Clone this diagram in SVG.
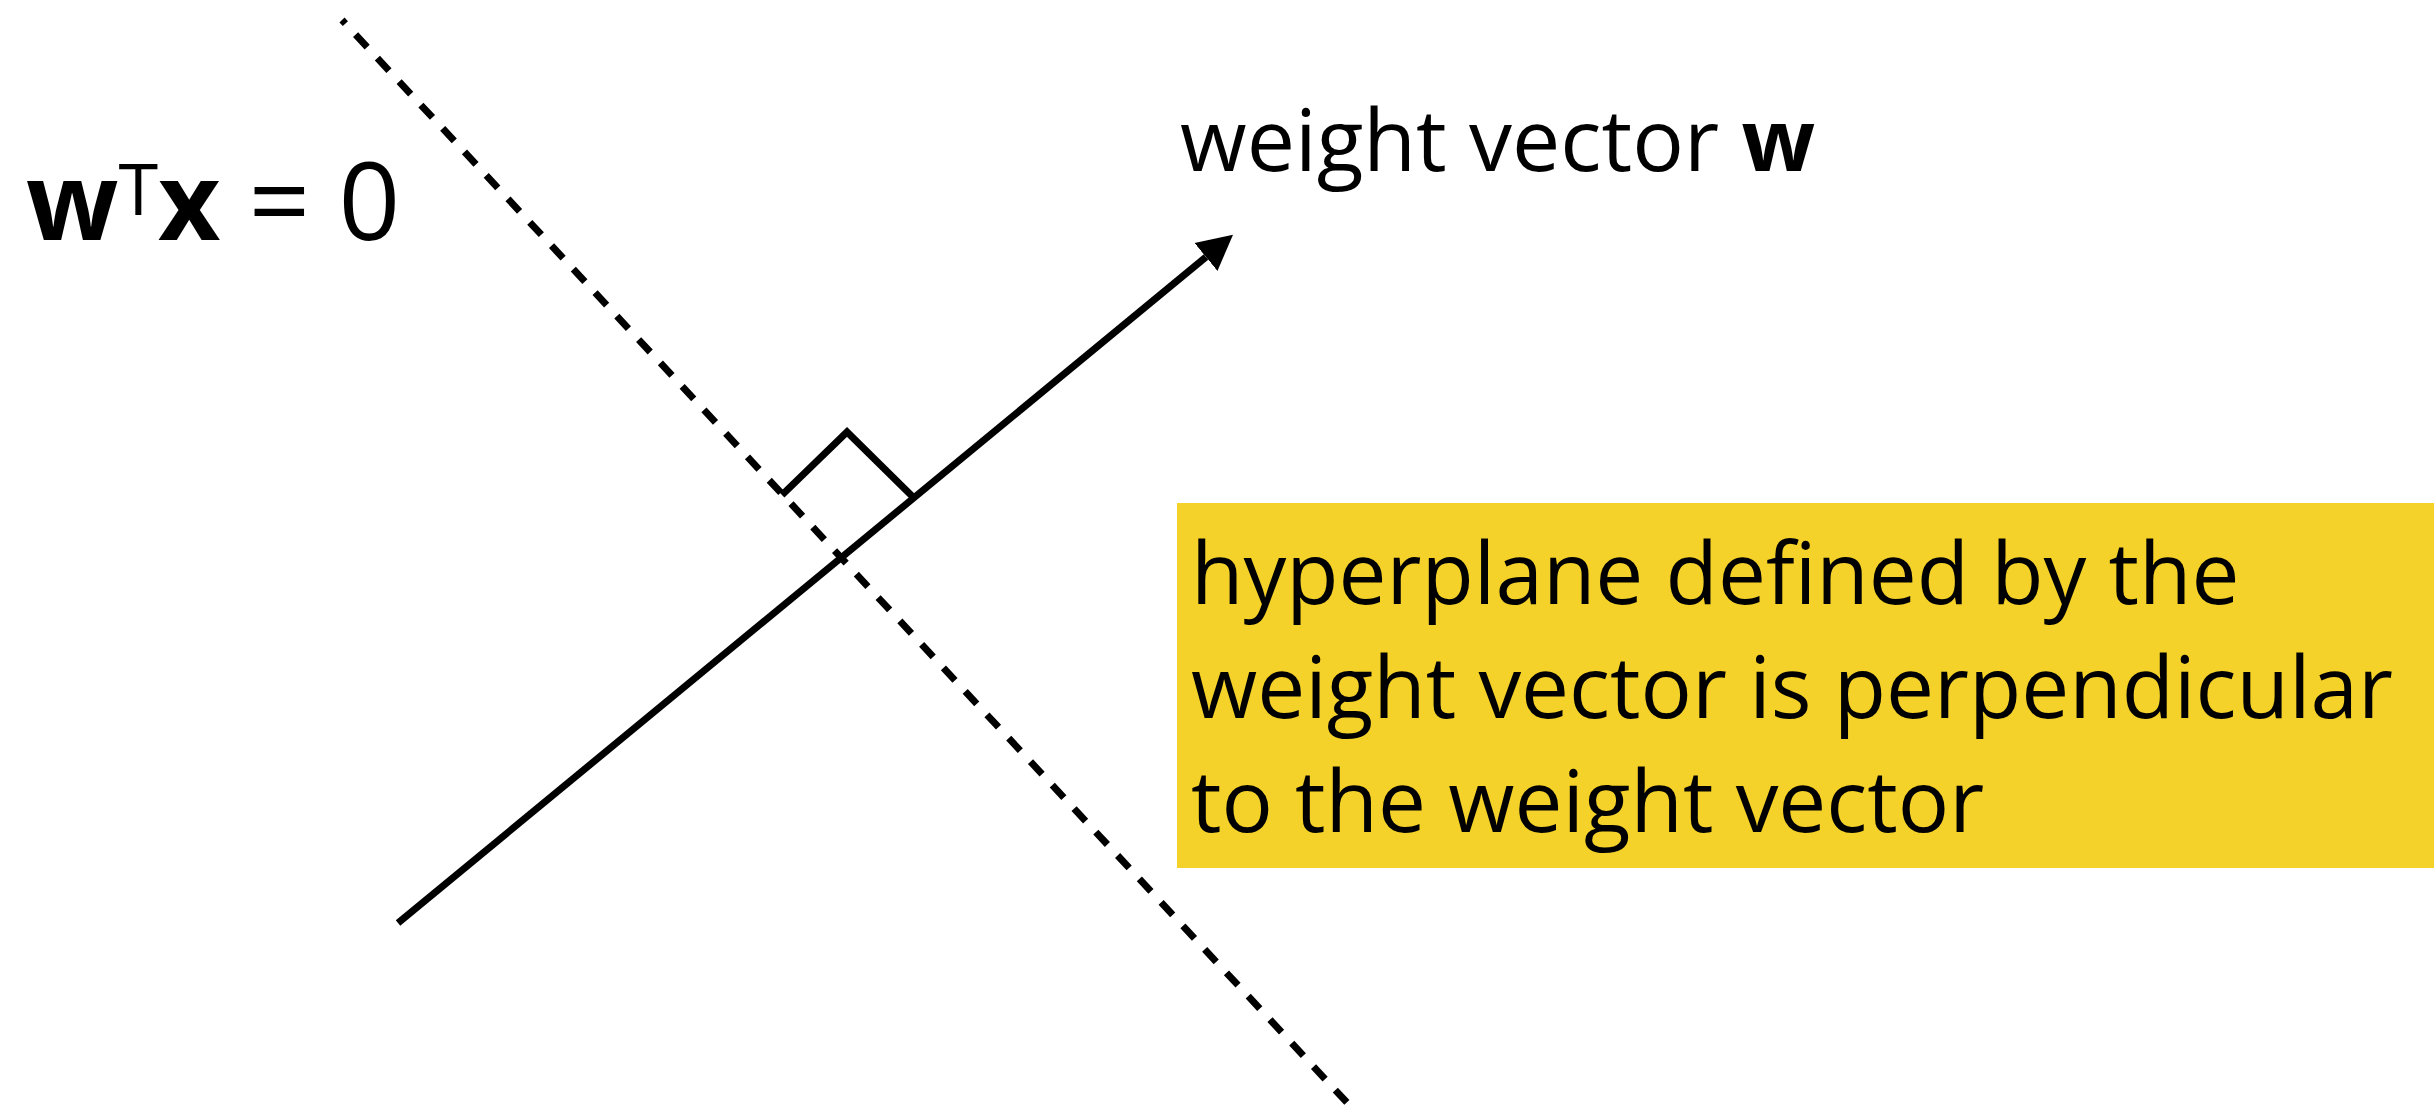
<svg xmlns="http://www.w3.org/2000/svg" width="2434" height="1106" viewBox="0 0 2434 1106">
  <style>
    .t { font-family: "Open Sans", "Noto Sans", "DejaVu Sans", sans-serif; fill: #000; }
    .b { font-weight: 700; }
    .ln { stroke: #000; stroke-width: 7; fill: none; }
    .dash { stroke-dasharray: 17 15; }
  </style>
  <defs>
    <marker id="arrow" markerUnits="userSpaceOnUse" markerWidth="38" markerHeight="38" refX="0" refY="18" orient="auto" viewBox="0 0 38 36">
      <path d="M0,0 L35,18 L0,36 z" fill="#000"/>
    </marker>
  </defs>

  <g id="hyperplane-label">
    <text class="t" x="26" y="240" font-size="108"><tspan class="b">w</tspan><tspan font-size="72" dy="-25">T</tspan><tspan class="b" dy="25">x</tspan> = 0</text>
  </g>

  <g id="weight-label">
    <text class="t" x="1180" y="171" font-size="86">weight vector <tspan class="b">w</tspan></text>
  </g>

  <g id="note">
    <rect x="1177" y="503" width="1257" height="365" fill="#F5D229"/>
    <text class="t" font-size="85.5">
      <tspan x="1191" y="604">hyperplane defined by the</tspan>
      <tspan x="1191" y="718">weight vector is perpendicular</tspan>
      <tspan x="1191" y="832">to the weight vector</tspan>
    </text>
  </g>

  <g id="connectors">
    <line id="hyperplane" class="ln dash" x1="342" y1="20" x2="1352" y2="1108" stroke-dashoffset="12"/>
    <line id="weight-vector" class="ln" x1="398" y1="923" x2="1206" y2="257" marker-end="url(#arrow)"/>
    <polyline id="right-angle" class="ln" points="782,495 847,432 913,497"/>
  </g>
</svg>
